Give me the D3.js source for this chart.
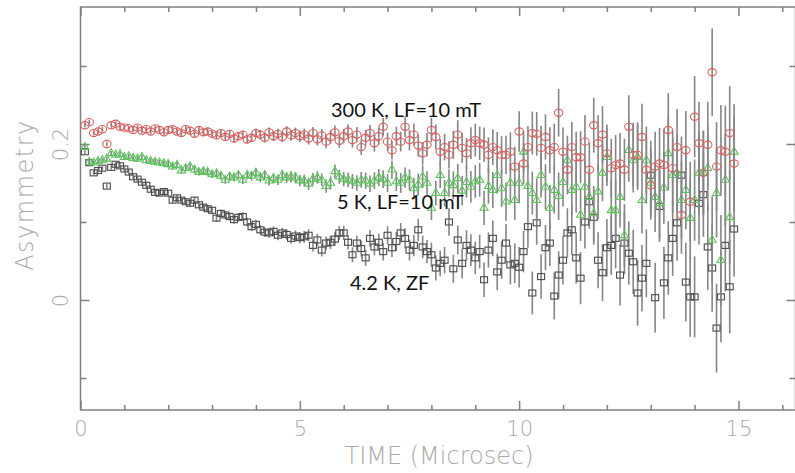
<!DOCTYPE html>
<html>
<head>
<meta charset="utf-8">
<script src="https://cdn.jsdelivr.net/npm/d3@7"></script>
<style>
  body { margin: 0; background: #fff; }
  svg { display: block; }
</style>
</head>
<body>
<div id="chart"></div>
<script>
// time bins (microsec)
var time = [
  0.1,0.2,0.3,0.4,0.5,0.6,0.7,0.8,0.9,1.0,
  1.1,1.2,1.3,1.4,1.5,1.6,1.7,1.8,1.9,2.0,
  2.1,2.2,2.3,2.4,2.5,2.6,2.7,2.8,2.9,3.0,
  3.1,3.2,3.3,3.4,3.5,3.6,3.7,3.8,3.9,4.0,
  4.1,4.2,4.3,4.4,4.5,4.6,4.7,4.8,4.9,5.0,
  5.1,5.2,5.3,5.4,5.5,5.6,5.7,5.8,5.9,6.0,
  6.1,6.2,6.3,6.4,6.5,6.6,6.7,6.8,6.9,7.0,
  7.1,7.2,7.3,7.4,7.5,7.6,7.7,7.8,7.9,8.0,
  8.1,8.2,8.3,8.4,8.5,8.6,8.7,8.8,8.9,9.0,
  9.1,9.2,9.3,9.4,9.5,9.6,9.7,9.8,9.9,10.0,
  10.1,10.2,10.3,10.4,10.5,10.6,10.7,10.8,10.9,11.0,
  11.1,11.2,11.3,11.4,11.5,11.6,11.7,11.8,11.9,12.0,
  12.1,12.2,12.3,12.4,12.5,12.6,12.7,12.8,12.9,13.0,
  13.1,13.2,13.3,13.4,13.5,13.6,13.7,13.8,13.9,14.0,
  14.1,14.2,14.3,14.4,14.5,14.6,14.7,14.8,14.9
]

// 300 K, LF=10 mT
var asym300K = [
  0.224,0.228,0.214,0.216,0.219,0.200,0.224,0.226,0.222,0.221,
  0.220,0.218,0.221,0.217,0.219,0.216,0.220,0.218,0.215,0.218,
  0.219,0.216,0.214,0.219,0.217,0.213,0.218,0.215,0.216,0.213,
  0.211,0.214,0.209,0.213,0.207,0.210,0.212,0.206,0.208,0.214,
  0.212,0.208,0.215,0.210,0.213,0.209,0.216,0.211,0.214,0.210,
  0.212,0.207,0.214,0.206,0.211,0.203,0.209,0.215,0.204,0.210,
  0.216,0.205,0.212,0.196,0.208,0.214,0.201,0.210,0.222,0.203,
  0.192,0.210,0.203,0.222,0.205,0.212,0.198,0.188,0.199,0.218,
  0.209,0.190,0.196,0.186,0.199,0.212,0.195,0.188,0.201,0.205,
  0.201,0.199,0.186,0.196,0.192,0.186,0.186,0.190,0.171,0.216,
  0.175,0.196,0.214,0.213,0.195,0.209,0.192,0.196,0.240,0.190,
  0.167,0.196,0.183,0.183,0.203,0.167,0.224,0.201,0.212,0.188,
  0.169,0.173,0.175,0.167,0.222,0.186,0.186,0.209,0.167,0.147,
  0.171,0.175,0.173,0.218,0.169,0.196,0.109,0.192,0.126,0.235,
  0.201,0.163,0.199,0.292,0.171,0.192,0.190,0.214,0.175
]

// 5 K, LF=10 mT
var asym5K = [
  0.196,0.177,0.176,0.178,0.179,0.181,0.188,0.186,0.187,0.183,
  0.184,0.182,0.181,0.183,0.179,0.178,0.177,0.176,0.175,0.174,
  0.171,0.173,0.166,0.169,0.171,0.167,0.164,0.165,0.164,0.161,
  0.162,0.159,0.154,0.158,0.157,0.160,0.154,0.160,0.159,0.163,
  0.157,0.160,0.153,0.156,0.154,0.160,0.157,0.158,0.157,0.153,
  0.153,0.149,0.155,0.157,0.154,0.146,0.150,0.165,0.158,0.155,
  0.154,0.152,0.150,0.154,0.153,0.149,0.153,0.157,0.155,0.150,
  0.167,0.152,0.150,0.157,0.154,0.143,0.148,0.158,0.150,0.118,
  0.137,0.160,0.137,0.150,0.147,0.156,0.140,0.151,0.145,0.152,
  0.154,0.118,0.146,0.141,0.160,0.143,0.126,0.150,0.128,0.150,
  0.190,0.146,0.137,0.128,0.160,0.145,0.118,0.141,0.133,0.151,
  0.179,0.141,0.145,0.109,0.145,0.132,0.111,0.139,0.163,0.183,
  0.115,0.115,0.132,0.083,0.192,0.179,0.183,0.128,0.179,0.150,
  0.132,0.124,0.144,0.188,0.160,0.163,0.128,0.141,0.105,0.128,
  0.163,0.163,0.169,0.077,0.137,0.051,0.154,0.106,0.190
]

// 4.2 K, ZF
var asym42K = [
  0.190,0.176,0.163,0.166,0.169,0.146,0.170,0.174,0.172,0.168,
  0.164,0.158,0.155,0.151,0.147,0.142,0.138,0.137,0.139,0.137,
  0.128,0.131,0.128,0.126,0.124,0.128,0.122,0.119,0.117,0.115,
  0.105,0.111,0.109,0.107,0.103,0.106,0.107,0.100,0.094,0.097,
  0.090,0.087,0.086,0.088,0.083,0.086,0.084,0.079,0.082,0.080,
  0.081,0.083,0.070,0.077,0.064,0.073,0.074,0.078,0.086,0.086,
  0.074,0.058,0.073,0.066,0.054,0.079,0.068,0.074,0.062,0.083,
  0.067,0.075,0.086,0.079,0.064,0.070,0.090,0.068,0.062,0.058,
  0.041,0.047,0.051,0.100,0.040,0.077,0.047,0.070,0.064,0.054,
  0.062,0.026,0.064,0.079,0.036,0.051,0.073,0.045,0.047,0.042,
  0.062,0.094,0.009,0.099,0.030,0.067,0.073,0.005,0.032,0.051,
  0.086,0.090,0.054,0.028,0.100,0.126,0.106,0.051,0.035,0.067,
  0.070,0.079,0.032,0.073,0.060,0.049,0.009,0.028,0.047,0.160,
  0.003,0.120,0.022,0.054,0.079,0.099,0.160,0.023,0.004,0.004,
  0.124,0.135,0.068,0.041,-0.036,0.004,0.070,0.017,0.091
]

// statistical error per bin
var errs = [
  0.0030,0.0030,0.0030,0.0030,0.0030,0.0030,0.0031,0.0031,0.0032,0.0032,
  0.0033,0.0033,0.0034,0.0034,0.0035,0.0036,0.0036,0.0037,0.0038,0.0039,
  0.0040,0.0040,0.0041,0.0042,0.0043,0.0044,0.0045,0.0046,0.0046,0.0047,
  0.0048,0.0049,0.0050,0.0051,0.0052,0.0053,0.0054,0.0055,0.0057,0.0058,
  0.0060,0.0061,0.0062,0.0064,0.0065,0.0066,0.0068,0.0069,0.0071,0.0073,
  0.0075,0.0077,0.0079,0.0080,0.0082,0.0084,0.0086,0.0088,0.0090,0.0092,
  0.0094,0.0096,0.0098,0.0101,0.0103,0.0106,0.0108,0.0110,0.0113,0.0115,
  0.0118,0.0122,0.0126,0.0130,0.0134,0.0138,0.0142,0.0146,0.0150,0.0155,
  0.0160,0.0165,0.0170,0.0175,0.0180,0.0185,0.0190,0.0197,0.0203,0.0210,
  0.0215,0.0220,0.0225,0.0230,0.0235,0.0240,0.0245,0.0250,0.0255,0.0260,
  0.0265,0.0270,0.0275,0.0280,0.0285,0.0290,0.0295,0.0300,0.0305,0.0310,
  0.0316,0.0322,0.0328,0.0334,0.0340,0.0346,0.0352,0.0358,0.0364,0.0370,
  0.0377,0.0384,0.0391,0.0398,0.0405,0.0412,0.0419,0.0426,0.0433,0.0440,
  0.0448,0.0456,0.0464,0.0472,0.0480,0.0488,0.0496,0.0504,0.0512,0.0520,
  0.0530,0.0540,0.0550,0.0560,0.0570,0.0580,0.0590,0.0600,0.0610
]

var xTicks = [0, 5, 10, 15]
var xMinorTicks = [1, 2, 3, 4, 6, 7, 8, 9, 11, 12, 13, 14, 16]
var yTicks = [0, 0.2]
var yMinorTicks = [-0.1, 0.1, 0.3]

var series = [
  {label: "4.2 K, ZF", values: asym42K, shape: "square", color: "#4a4a4a", lx: 350, ly: 290},
  {label: "5 K, LF=10 mT", values: asym5K, shape: "triangle", color: "#5cc65c", lx: 337, ly: 209},
  {label: "300 K, LF=10 mT", values: asym300K, shape: "circle", color: "#dc6060", lx: 331, ly: 117}
]

var width = 795, height = 473
var svg = d3.select("#chart").append("svg").attr("width", width).attr("height", height)

var x = d3.scaleLinear().domain([0, 16.3]).range([80.5, 795.5])
var y = d3.scaleLinear().domain([-0.141, 0.3756]).range([410, 7])

var axisColor = "#808080"
var labelFont = "'DejaVu Sans', sans-serif"

// frame
svg.append("rect")
   .attr("x", x(0)).attr("y", y.range()[1])
   .attr("width", x(16.3) - x(0)).attr("height", y.range()[0] - y.range()[1])
   .attr("fill", "none").attr("stroke", axisColor).attr("stroke-width", 1.5)

function styleAxis(g) {
  g.select(".domain").remove()
  g.selectAll(".tick line").attr("stroke", axisColor).attr("stroke-width", 1.5)
  g.selectAll("text").attr("fill", "#a9a9a9").style("font-family", labelFont)
   .style("font-weight", 200).style("font-size", "21px")
}

// bottom / top axes
svg.append("g").attr("transform", "translate(0," + y.range()[0] + ")")
   .call(d3.axisBottom(x).tickValues(xTicks).tickSize(-9).tickPadding(11).tickFormat(d3.format("d")))
   .call(styleAxis)
svg.append("g").attr("transform", "translate(0," + y.range()[0] + ")")
   .call(d3.axisBottom(x).tickValues(xMinorTicks).tickSize(-5).tickFormat(""))
   .call(styleAxis)
svg.append("g").attr("transform", "translate(0," + y.range()[1] + ")")
   .call(d3.axisTop(x).tickValues(xTicks).tickSize(-9).tickFormat(""))
   .call(styleAxis)
svg.append("g").attr("transform", "translate(0," + y.range()[1] + ")")
   .call(d3.axisTop(x).tickValues(xMinorTicks).tickSize(-5).tickFormat(""))
   .call(styleAxis)

// left / right axes
var yAxisG = svg.append("g").attr("transform", "translate(" + x(0) + ",0)")
   .call(d3.axisLeft(y).tickValues(yTicks).tickSize(-9).tickFormat(function(d) { return d === 0 ? "0" : d3.format(".1f")(d) }))
   .call(styleAxis)
yAxisG.selectAll(".tick text")
   .attr("transform", "rotate(-90)")
   .attr("x", 0).attr("y", -13).attr("dy", 0)
   .style("text-anchor", "middle")
svg.append("g").attr("transform", "translate(" + x(0) + ",0)")
   .call(d3.axisLeft(y).tickValues(yMinorTicks).tickSize(-6).tickFormat(""))
   .call(styleAxis)
svg.append("g").attr("transform", "translate(" + x(16.3) + ",0)")
   .call(d3.axisRight(y).tickValues(yTicks).tickSize(-9).tickFormat(""))
   .call(styleAxis)
svg.append("g").attr("transform", "translate(" + x(16.3) + ",0)")
   .call(d3.axisRight(y).tickValues(yMinorTicks).tickSize(-6).tickFormat(""))
   .call(styleAxis)

// axis titles
svg.append("text")
   .attr("x", 439).attr("y", 464)
   .attr("text-anchor", "middle")
   .attr("fill", "#a9a9a9")
   .style("font-family", labelFont).style("font-weight", 200).style("font-size", "24px")
   .text("TIME (Microsec)")
svg.append("text")
   .attr("transform", "translate(33,195) rotate(-90)")
   .attr("text-anchor", "middle")
   .attr("fill", "#a9a9a9")
   .style("font-family", labelFont).style("font-weight", 200).style("font-size", "24px")
   .style("letter-spacing", "1.5px")
   .text("Asymmetry")

// data
var plot = svg.append("g")
var tri = d3.symbol().type(d3.symbolTriangle).size(28)

series.forEach(function(s) {
  var pts = s.values.map(function(v, i) { return {t: time[i], v: v, e: errs[i]} })
  var g = plot.append("g")

  g.selectAll("line.err").data(pts).enter().append("line")
   .attr("class", "err")
   .attr("x1", function(d) { return x(d.t) }).attr("x2", function(d) { return x(d.t) })
   .attr("y1", function(d) { return y(d.v - d.e) }).attr("y2", function(d) { return y(d.v + d.e) })
   .attr("stroke", "#858585").attr("stroke-width", 1.6)

  if (s.shape === "circle") {
    g.selectAll("ellipse").data(pts).enter().append("ellipse")
     .attr("cx", function(d) { return x(d.t) }).attr("cy", function(d) { return y(d.v) })
     .attr("rx", 4.2).attr("ry", 3.6)
     .attr("fill", "none").attr("stroke", s.color).attr("stroke-width", 1.1)
  } else if (s.shape === "square") {
    g.selectAll("rect").data(pts).enter().append("rect")
     .attr("x", function(d) { return x(d.t) - 3.5 }).attr("y", function(d) { return y(d.v) - 3 })
     .attr("width", 7).attr("height", 6)
     .attr("fill", "none").attr("stroke", s.color).attr("stroke-width", 1.1)
  } else {
    g.selectAll("path").data(pts).enter().append("path")
     .attr("transform", function(d) { return "translate(" + x(d.t) + "," + y(d.v) + ")" })
     .attr("d", tri)
     .attr("fill", "none").attr("stroke", s.color).attr("stroke-width", 1.1)
  }

  svg.append("text")
     .attr("x", s.lx).attr("y", s.ly)
     .attr("fill", "#111")
     .style("font-family", "Lato, 'Open Sans', sans-serif").style("font-size", "20px")
     .text(s.label)
})
</script>
</body>
</html>
